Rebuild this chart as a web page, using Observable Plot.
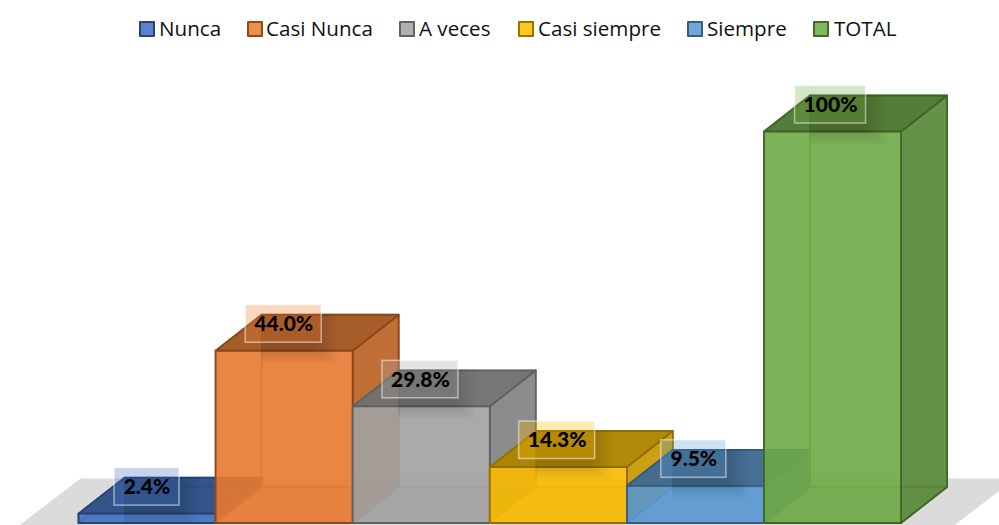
<!DOCTYPE html>
<html>
<head>
<meta charset="utf-8">
<script src="https://cdn.jsdelivr.net/npm/d3@7"></script>
<script src="https://cdn.jsdelivr.net/npm/@observablehq/plot@0.6"></script>
<style>
  html, body { margin: 0; padding: 0; background: #fff; overflow: hidden; }
  #legend { position: relative; height: 55px; width: 999px; font-family: "Open Sans", sans-serif; font-size: 20.6px; color: #111; }
  .item { position: absolute; top: 13px; line-height: 30px; white-space: nowrap; }
  .sw { position: absolute; top: 20.5px; width: 12px; height: 12px; border-width: 2px; border-style: solid; border-radius: 1px; }
  svg { display: block; }
</style>
</head>
<body>
<div id="legend"></div>
<div id="chart"></div>
<script>
// Data
const categories = ["Nunca", "Casi Nunca", "A veces", "Casi siempre", "Siempre", "TOTAL"];
const values = [2.4, 44.0, 29.8, 14.3, 9.5, 100];
const labels = ["2.4%", "44.0%", "29.8%", "14.3%", "9.5%", "100%"];
const colors = ["#4472C4", "#ED7D31", "#A5A5A5", "#FFC000", "#5B9BD5", "#70AD47"];

// Layout: pixel frame of the chart and its oblique projection
const W = 999, H = 470, TOP = 55;
const barPx = 137.1, x0Px = 78, basePx = 522.5, pxPerPct = 3.915;
const xU = px => (px - x0Px) / barPx;
const yU = py => (basePx - py) / pxPerPct;
const dX = 46 / barPx, dY = 36 / pxPerPct;      // depth of each box, in scale units
const pxX = p => p / barPx, pxY = p => p / pxPerPct;

const swatchLeft = [139, 247, 399, 518, 687, 813];
const textLeft = [159, 266, 419, 538, 707, 834];
const legend = document.getElementById("legend");
const shade = (c, k) => { const r = d3.rgb(c); return d3.rgb(r.r * k, r.g * k, r.b * k).formatHex(); };
categories.forEach((c, i) => {
  const s = document.createElement("div");
  s.className = "sw";
  s.style.left = swatchLeft[i] + "px";
  s.style.background = d3.interpolateRgb(colors[i], "#fff")(0.12);
  s.style.borderColor = shade(colors[i], 0.6);
  legend.appendChild(s);
  const t = document.createElement("div");
  t.className = "item";
  t.style.left = textLeft[i] + "px";
  t.textContent = c;
  legend.appendChild(t);
});

const poly = (pts, o) => Plot.line(pts.map(([x, y]) => ({x, y})), {x: "x", y: "y", curve: "linear-closed", strokeLinejoin: "round", ...o});

const marks = [];
// Floor
marks.push(poly([[xU(80), yU(478)], [xU(1015), yU(478)], [xU(938), yU(537)], [xU(3), yU(537)]],
  {fill: "#DCDBDB", stroke: "none", clip: true}));

values.forEach((v, i) => {
  const c = colors[i], a = i, b = i + 1;
  const edge = shade(c, 0.58), inner = shade(c, 0.88);
  const f = {strokeWidth: 1.8};
  // bottom, back and left faces: seen through the box
  marks.push(poly([[a, 0], [b, 0], [b + dX, dY], [a + dX, dY]], {fill: c, fillOpacity: 0.3, stroke: inner, strokeOpacity: 0.6, ...f}));
  marks.push(poly([[a + dX, dY], [b + dX, dY], [b + dX, v + dY], [a + dX, v + dY]], {fill: c, fillOpacity: 0.2, stroke: inner, strokeOpacity: 0.6, ...f}));
  marks.push(poly([[a, 0], [a + dX, dY], [a + dX, v + dY], [a, v]], {fill: c, fillOpacity: 0.2, stroke: inner, strokeOpacity: 0.6, ...f}));
  // right and top faces
  marks.push(poly([[b, 0], [b + dX, dY], [b + dX, v + dY], [b, v]], {fill: shade(c, 0.78), fillOpacity: 0.9, stroke: edge, ...f}));
  marks.push(poly([[a, v], [b, v], [b + dX, v + dY], [a + dX, v + dY]], {fill: shade(c, 0.68), fillOpacity: 0.95, stroke: edge, ...f}));
  // front face
  marks.push(poly([[a, 0], [b, 0], [b, v], [a, v]], {fill: shade(c, 0.97), fillOpacity: 0.88, stroke: edge, ...f}));
  // soft shadow under the label
  const steps = d3.range(6).map(k => ({
    x1: a + dX,
    x2: b - pxX(15) - pxX(k * 4),
    y1: Math.max(0, v - pxY(13) + pxY(k * 2.5)),
    y2: v + dY
  }));
  marks.push(Plot.rect(steps, {x1: "x1", x2: "x2", y1: "y1", y2: "y2", fill: "#000", fillOpacity: 0.022}));
});

const labelRows = values.map((v, i) => {
  const cx = i + 0.5 - pxX(i * 0.4);
  const half = pxX(labels[i].length === 5 ? 38 : i === 5 ? 35.5 : 32.5);
  return {cx, v, label: labels[i], color: colors[i],
    x1: cx - half, x2: cx + half, y1: v + pxY(8), y2: v + pxY(45.5), yc: v + pxY(26.5)};
});
marks.push(...labelRows.map(d => Plot.rect([d], {
  x1: "x1", x2: "x2", y1: "y1", y2: "y2",
  fill: d.color, fillOpacity: 0.3, stroke: "#fff", strokeOpacity: 0.5, strokeWidth: 1.5
})));
marks.push(Plot.text(labelRows, {
  x: "cx", y: "yc", text: "label", fontFamily: "Lato, sans-serif", fontWeight: 900, fontSize: 21, fill: "#000"
}));

const chart = Plot.plot({
  width: W, height: H,
  marginTop: 0, marginRight: 0, marginBottom: 0, marginLeft: 0,
  style: {background: "#fff", overflow: "hidden"},
  x: {type: "linear", domain: [xU(0), xU(W)], range: [0, W], axis: null},
  y: {type: "linear", domain: [yU(TOP + H), yU(TOP)], range: [H, 0], axis: null},
  marks
});
document.getElementById("chart").appendChild(chart);
</script>
</body>
</html>
